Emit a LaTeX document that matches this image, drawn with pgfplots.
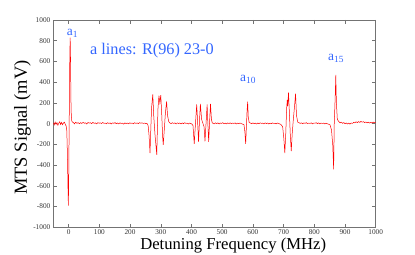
\documentclass[border=0pt]{standalone}
\usepackage{pgfplots}
\pgfplotsset{compat=1.18}
\usepackage{fontspec}
\setmainfont{Liberation Serif}
\definecolor{lblue}{RGB}{51,102,255}
\definecolor{sigred}{RGB}{255,0,0}
\begin{document}
\begin{tikzpicture}
\useasboundingbox (0,0) rectangle (415bp,255bp);
\begin{axis}[
  at={(53.3bp,27.7bp)}, anchor=south west,
  scale only axis, width=322.4bp, height=207.3bp,
  xmin=-50, xmax=1000, ymin=-1000, ymax=1000,
  xtick={0,100,...,1000}, ytick={-1000,-800,...,1000},
  tick align=inside, major tick length=3.5bp,
  axis line style={black!55, line width=0.6pt},
  every tick/.style={black!55, line width=0.5pt},
  tick label style={font=\fontsize{7.3}{8}\selectfont, text=black!80},
  /pgf/number format/assume math mode=true,
  /pgf/number format/1000 sep={},
  xticklabel style={inner sep=1pt, yshift=-1.5bp},
  yticklabel style={xshift=0.5bp},
  xlabel={Detuning Frequency (MHz)},
  ylabel={MTS Signal (mV)},
  every axis x label/.style={at={(axis description cs:0.558,-0.106)}, anchor=base, inner sep=0pt, font=\fontsize{16.7}{18}\selectfont},
  every axis y label/.style={at={(axis description cs:-0.0955,0.481)}, rotate=90, anchor=center, inner sep=0pt, font=\fontsize{18.5}{20}\selectfont},
]
\addplot[sigred, line width=0.5pt] coordinates {
(-50,8) (-47,-12) (-44,15) (-41,-6) (-38,10) (-35,-15) (-32,5) (-29,18) (-26,-8) (-23,12) (-20,-10) (-17,6) (-14,14) (-11,-5) (-8,-25) (-6,-70) (-4,-300) (-2,-650) (-1,-790) (0,-600) (1,-250) (2,100) (3,450) (4,700) (5,830) (6,650) (7,350) (8,120) (10,30) (12,15)
(15,12) (19,-2) (23,14) (27,3) (31,10) (35,-1) (39,9) (43,2) (47,13) (51,4) (55,8) (59,-3) (63,11) (67,5) (71,9) (75,0) (79,12) (83,3) (87,7) (91,-2) (95,10) (99,4) (103,8) (107,1) (111,11) (115,3) (119,6) (123,-1) (127,9) (131,2) (135,7) (139,-3) (143,8) (147,3) (151,10) (155,0) (159,6) (163,-2) (167,8) (171,2) (175,5) (179,-4) (183,7) (187,1) (191,6) (195,-2) (199,8) (203,3) (207,6) (211,-1) (215,9) (219,2) (223,7) (227,0) (231,10) (235,4) (239,8) (243,2) (247,6) (251,1) (255,3)
(259,-20) (262,-120) (265,-285) (267,-100) (270,150) (274,283) (277,80) (281,-100) (284,-200) (287,-300) (289,-50) (291,150) (294,270) (297,200) (300,275) (303,100) (306,-120) (308,-205) (311,-80) (315,100) (319,215) (322,80) (326,20)
(330,6) (334,0) (338,9) (342,2) (346,7) (350,-3) (354,8) (358,1) (362,6) (366,-2) (370,7) (374,0) (378,9) (382,2) (386,5) (390,-3) (394,6) (398,1) (402,-5)
(405,-20) (409,-195) (412,-50) (417,185) (420,20) (423,-175) (426,20) (429,190) (433,40) (437,5) (441,-30) (444,-170) (447,-20) (451,185) (453,30) (456,-175) (459,20) (462,190) (465,40) (468,5)
(470,6) (474,-2) (478,8) (482,1) (486,7) (490,-3) (494,6) (498,2) (502,9) (506,0) (510,5) (514,-2) (518,7) (522,1) (526,8) (530,-1) (534,6) (538,2) (542,7) (546,-3) (550,5) (554,0) (558,6) (562,1) (566,-4)
(571,-10) (574,-80) (576.5,-196) (579,-20) (581,120) (583,212) (585,60) (588,10)
(592,6) (596,-1) (600,7) (604,1) (608,5) (612,-3) (616,6) (620,0) (624,8) (628,2) (632,5) (636,-2) (640,7) (644,1) (648,6) (652,-3) (656,5) (660,0) (664,7) (668,2) (672,4) (676,-2) (680,6) (684,1) (688,-3) (692,-10)
(697,-30) (701,-150) (704,-285) (707,-100) (710,150) (712,230) (713.5,170) (716,300) (719,100) (722,-120) (725,-265) (728,-100) (732,50) (736,180) (739,290) (742,80) (746,15)
(750,10) (754,2) (758,8) (762,-1) (766,7) (770,3) (774,10) (778,0) (782,6) (786,2) (790,8) (794,-2) (798,6) (802,4) (806,9) (810,1) (814,7) (818,-1) (822,6) (826,2) (830,5) (834,-2) (838,4) (842,0) (846,-5)
(851,-10) (856,-60) (860,-200) (863,-440) (865,0) (868,250) (870,470) (872,200) (875,40)
(880,20) (884,8) (888,14) (892,3) (896,10) (900,0) (904,6) (908,-3) (912,5) (916,-4) (920,6) (924,2) (928,12) (932,8) (936,18) (940,10) (944,20) (948,12) (952,22) (956,14) (960,19) (964,10) (968,16) (972,8) (976,14) (980,6) (984,13) (988,5) (992,15) (996,8) (1000,12)
};
\node[anchor=base west, text=lblue, font=\fontsize{13.5}{15}\selectfont, inner sep=0pt] at (axis cs:-6.5,855) {a\textsubscript{1}};
\node[anchor=base west, text=lblue, font=\fontsize{16.3}{18}\selectfont, inner sep=0pt] at (axis cs:69.4,669) {a lines: R(96) 23-0};
\node[anchor=base west, text=lblue, font=\fontsize{13.5}{15}\selectfont, inner sep=0pt] at (axis cs:558,405) {a\textsubscript{10}};
\node[anchor=base west, text=lblue, font=\fontsize{13.5}{15}\selectfont, inner sep=0pt] at (axis cs:844.6,614) {a\textsubscript{15}};
\end{axis}
\end{tikzpicture}
\end{document}
